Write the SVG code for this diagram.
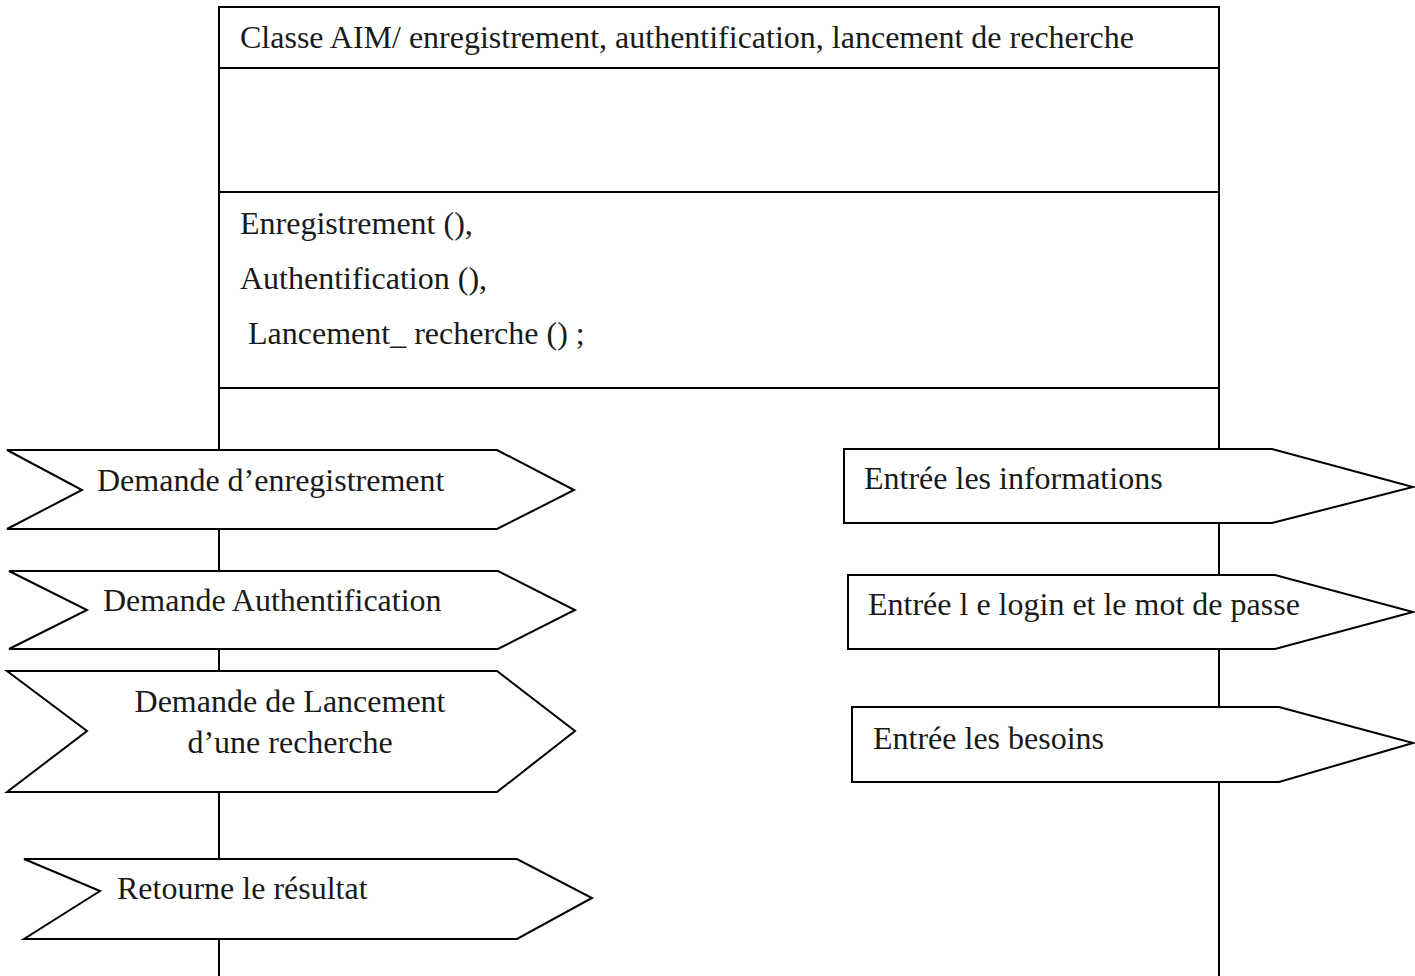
<svg xmlns="http://www.w3.org/2000/svg" width="1415" height="976" viewBox="0 0 1415 976">
  <style>
    .ln { fill: none; stroke: #000; stroke-width: 2; }
    .sig { fill: #fff; stroke: #000; stroke-width: 2; stroke-linejoin: miter; }
    .box { fill: #fff; stroke: #000; stroke-width: 2; }
    text { font-family: "Liberation Serif", "Times New Roman", serif; font-size: 32px; fill: #1a1a1a; }
  </style>
  <rect width="1415" height="976" fill="#fff"/>

  <!-- lifelines of the class -->
  <g id="connectors">
    <line class="ln" x1="219" y1="388" x2="219" y2="976"/>
    <line class="ln" x1="1219" y1="388" x2="1219" y2="976"/>
  </g>

  <!-- class box: name / attributes / operations -->
  <g id="classe-aim">
    <rect class="box" x="219" y="7" width="1000" height="381"/>
    <line class="ln" x1="219" y1="68" x2="1219" y2="68"/>
    <line class="ln" x1="219" y1="192" x2="1219" y2="192"/>
    <text x="240" y="48">Classe AIM/ enregistrement, authentification, lancement de recherche</text>
    <text x="240" y="234">Enregistrement (),</text>
    <text x="240" y="289">Authentification (),</text>
    <text x="240" y="344" xml:space="preserve"> Lancement_ recherche () ;</text>
  </g>

  <!-- received signals (left) -->
  <g id="demande-enregistrement">
    <polygon class="sig" points="7,450 497,450 574,490 497,529 7,529 82,490"/>
    <text x="97" y="491">Demande d’enregistrement</text>
  </g>
  <g id="demande-authentification">
    <polygon class="sig" points="9,571 498,571 575,610 498,649 9,649 87,610"/>
    <text x="103" y="611">Demande Authentification</text>
  </g>
  <g id="demande-lancement">
    <polygon class="sig" points="7,671 497,671 575,731 497,792 7,792 87,731"/>
    <text x="290" y="712" text-anchor="middle">Demande de Lancement</text>
    <text x="290" y="753" text-anchor="middle">d’une recherche</text>
  </g>
  <g id="retourne-resultat">
    <polygon class="sig" points="24,859 517,859 592,898 517,939 24,939 100,891"/>
    <text x="117" y="899">Retourne le résultat</text>
  </g>

  <!-- sent signals (right) -->
  <g id="entree-informations">
    <polygon class="sig" points="844,449 1272,449 1413,487 1272,523 844,523"/>
    <text x="864" y="489">Entrée les informations</text>
  </g>
  <g id="entree-login">
    <polygon class="sig" points="848,575 1275,575 1413,612 1275,649 848,649"/>
    <text x="868" y="615">Entrée l e login et le mot de passe</text>
  </g>
  <g id="entree-besoins">
    <polygon class="sig" points="852,707 1279,707 1413,743 1279,782 852,782"/>
    <text x="873" y="749">Entrée les besoins</text>
  </g>
</svg>
